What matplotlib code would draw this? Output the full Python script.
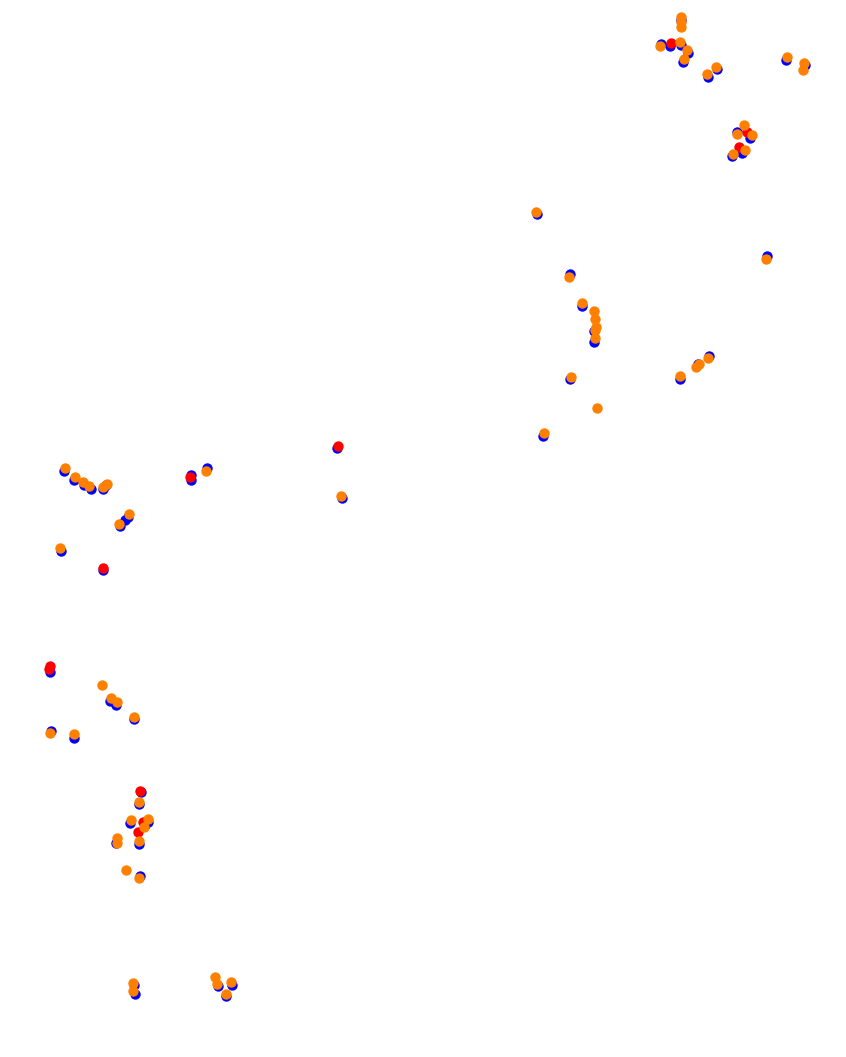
import numpy as np
import matplotlib
matplotlib.use('Agg')
import matplotlib.pyplot as plt

# positions of the points (image coordinates, y grows downwards)
blue_x = [681, 661, 670, 681, 688, 683, 717, 708, 786, 805, 737, 750, 742, 732,
          537, 767, 570, 582, 594, 594, 570, 543, 680, 698, 709,
          64, 74, 84, 91, 106, 103, 120, 125, 128, 61, 103, 191, 191, 207, 337, 342,
          50, 110, 116, 134, 51, 74,
          141, 139, 130, 148, 145, 116, 139, 140,
          134, 135, 218, 232, 226]
blue_y = [20, 44, 46, 45, 53, 62, 69, 77, 60, 65, 132, 138, 153, 156,
          214, 256, 274, 306, 331, 342, 379, 436, 379, 364, 356,
          471, 480, 485, 489, 485, 489, 526, 520, 517, 551, 570, 475, 480, 468, 448, 498,
          672, 701, 705, 719, 731, 738,
          792, 804, 823, 822, 825, 843, 844, 876,
          985, 994, 986, 985, 996]

red_x = [671, 747, 739, 103, 190, 338, 49, 50, 140, 143, 138]
red_y = [43, 132, 147, 568, 477, 446, 669, 666, 791, 822, 832]

orange_x = [681, 681, 681, 660, 680, 687, 684, 716, 707, 787, 804, 803,
            744, 737, 752, 733, 745,
            536, 766, 569, 582, 594, 595, 596, 595, 595, 571, 597, 544, 680, 696, 699, 708,
            65, 75, 83, 89, 103, 107, 119, 129, 60, 206, 341,
            102, 111, 117, 134, 50, 74,
            139, 131, 148, 144, 117, 117, 139, 126, 139,
            133, 133, 215, 217, 231, 226]
orange_y = [17, 22, 27, 46, 42, 50, 59, 67, 74, 57, 63, 70,
            125, 134, 135, 154, 150,
            212, 259, 277, 303, 311, 319, 327, 330, 338, 377, 408, 433, 376, 367, 364, 358,
            468, 477, 482, 486, 487, 484, 524, 514, 548, 471, 496,
            685, 698, 702, 717, 733, 734,
            802, 820, 819, 827, 838, 843, 841, 870, 878,
            983, 991, 977, 984, 982, 994]

fig = plt.figure(figsize=(8.46, 10.57), dpi=100)
ax = fig.add_axes([0, 0, 1, 1])
ax.scatter(blue_x, blue_y, s=56, color='#0000ff', linewidths=0)
ax.scatter(red_x, red_y, s=56, color='#ff0000', linewidths=0)
ax.scatter(orange_x, orange_y, s=56, color='#ff8000', linewidths=0)
ax.set_xlim(0, 846)
ax.set_ylim(1057, 0)
ax.axis('off')
fig.savefig('out.png', dpi=100)
